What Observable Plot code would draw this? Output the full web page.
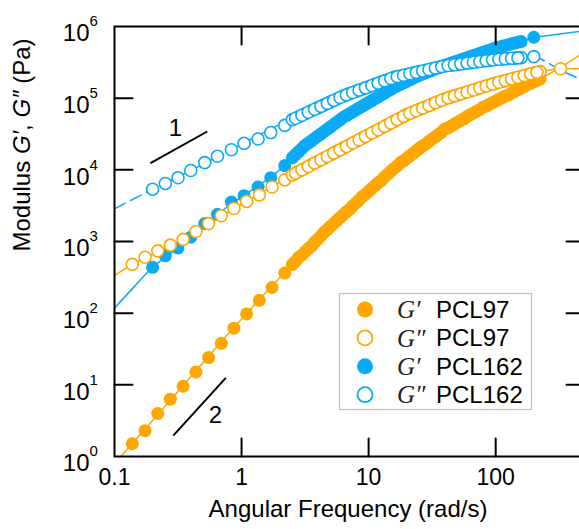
<!DOCTYPE html>
<html><head><meta charset="utf-8">
<script src="https://cdn.jsdelivr.net/npm/d3@7"></script>
<script src="https://cdn.jsdelivr.net/npm/@observablehq/plot@0.6"></script>
<style>
html,body{margin:0;padding:0;background:#fff;overflow:hidden;}
</style></head><body><div id="chart"></div>
<script>
// ---------- data ----------
// PCL97, sweep A
const freq97 = [0.138, 0.174, 0.219, 0.275, 0.347, 0.437, 0.550, 0.692, 0.871, 1.096, 1.380, 1.738, 2.188,
  2.512, 2.818, 3.162, 3.548, 3.981, 4.467, 5.012, 5.623, 6.310, 7.079, 7.943, 8.913, 10.0, 11.22, 12.59, 14.13,
  15.85, 17.78, 19.95, 22.39, 25.12, 28.18, 31.62, 35.48, 39.81, 44.67, 50.12, 56.23, 63.10, 70.79, 79.43, 89.13,
  100.0, 112.2, 125.9, 141.3, 158.5, 177.8, 199.5, 223.9, 323.6];
const Gp97 = [1.51, 2.29, 3.98, 6.31, 9.55, 15.1, 24.0, 38.0, 61.7, 97.7, 151, 229, 363,
  479, 600, 719, 860, 1079, 1350, 1622, 1959, 2360, 2800, 3443, 4230, 5012, 6026, 7100, 8710,
  10470, 12600, 14450, 16980, 19950, 22800, 26920, 31260, 37000, 41020, 46240, 51500, 58880, 65770, 74500, 81850,
  91200, 101200, 111000, 124500, 138000, 155000, 168700, 186200, null];
const Gpp97 = [479, 603, 741, 891, 1072, 1380, 1778, 2291, 2884, 3631, 4467, 5754, 7244,
  8511, 9484, 10540, 11750, 13090, 14550, 16220, 18070, 20090, 22390, 24950, 27730, 30900, 34430, 38280, 42660,
  47530, 52840, 58880, 64120, 69660, 75860, 82600, 89740, 97720, 104200, 110900, 118300, 125900, 134300, 142900, 152400,
  162200, 171000, 180700, 190500, 200900, 212300, 223900, 234400, 257000];
// PCL97, sweep B (interleaved frequencies)
const freq97b = [2.661, 2.985, 3.350, 3.758, 4.217, 4.732, 5.309, 5.957, 6.683, 7.499, 8.414, 9.441, 10.59,
  11.89, 13.34, 14.96, 16.79, 18.84, 21.13, 23.71, 26.61, 29.85, 33.50, 37.58, 42.17, 47.32, 53.09, 59.57, 66.83,
  74.99, 84.14, 94.41, 105.9, 118.9, 133.4, 149.6, 167.9, 188.4, 211.3];
const Gp97b = [530, 649, 796, 975, 1195, 1466, 1782, 2150, 2594, 3133, 3781, 4560, 5495,
  6607, 7943, 9550, 11350, 13340, 15670, 18410, 21500, 24970, 29000, 33690, 38600, 43550, 49150, 55460, 62230,
  69420, 77450, 86420, 96050, 106500, 118200, 131100, 145100, 160300, 177300];
const Gpp97b = [8985, 10000, 11130, 12400, 13800, 15370, 17120, 19050, 21210, 23640, 26300, 29280, 32620,
  36310, 40420, 45030, 50120, 55790, 61460, 66830, 72700, 79160, 86100, 93650, 100900, 107500, 114600, 122100, 130000,
  138500, 147600, 157200, 166500, 175800, 185500, 195700, 206500, 218000, 229100];

// PCL162, sweep A
const freq162 = [0.1995, 0.2512, 0.3162, 0.3981, 0.5129, 0.6457, 0.8318, 1.047, 1.349, 1.698, 2.188,
  2.512, 2.818, 3.162, 3.548, 3.981, 4.467, 5.012, 5.623, 6.310, 7.079, 7.943, 8.913, 10.0, 11.22, 12.59, 14.13,
  15.85, 17.78, 19.95, 22.39, 25.12, 28.18, 31.62, 35.48, 39.81, 44.67, 50.12, 56.23, 63.10, 70.79, 79.43, 89.13,
  100.0, 112.2, 125.9, 141.3, 158.5, 199.5];
const Gp162 = [436.5, 631, 812.8, 1148, 1778, 2399, 3548, 4365, 5754, 7762, 11480,
  14790, 17990, 21880, 25410, 29510, 34280, 39810, 46240, 53700, 60670, 68390, 77270, 87100, 98400, 110900, 125300,
  141300, 156000, 171800, 189700, 208900, 226500, 245500, 266100, 288400, 309000, 331100, 354800, 380200, 407400, 436500, 467700,
  501200, 529700, 558500, 588800, 616600, 707900];
const Gpp162 = [5370, 6457, 7762, 9772, 12590, 15490, 19050, 23440, 26920, 33110, 41690,
  50120, 55080, 60670, 66680, 73280, 80540, 88720, 97500, 107200, 115600, 124500, 134300, 144500, 156000, 167900, 181100,
  195000, 204200, 213800, 223900, 234400, 245500, 257000, 269200, 281800, 289100, 297200, 304800, 312600, 320600, 329600, 338100,
  346700, 351600, 357300, 362200, 367300, 380200];
// PCL162, sweep B
const freq162b = [2.661, 2.985, 3.350, 3.758, 4.217, 4.732, 5.309, 5.957, 6.683, 7.499, 8.414, 9.441, 10.59,
  11.89, 13.34, 14.96, 16.79, 18.84, 21.13, 23.71, 26.61, 29.85, 33.50, 37.58, 42.17, 47.32, 53.09, 59.57, 66.83,
  74.99, 84.14, 94.41, 105.9, 118.9, 133.4, 149.6];
const Gp162b = [16310, 19840, 23580, 27390, 31810, 36950, 42900, 49830, 57080, 64420, 72700, 82040, 92570,
  104500, 117900, 133000, 148500, 163700, 180500, 199100, 217600, 235800, 255600, 277000, 298500, 319900, 342800, 367300, 393600,
  421700, 451900, 484200, 515200, 543800, 573400, 602600];
const Gpp162b = [52540, 57810, 63610, 69900, 76820, 84530, 93000, 102200, 111300, 120000, 129300, 139300, 150200,
  161800, 174400, 187900, 199500, 208900, 218800, 229100, 239900, 251200, 263000, 275400, 285400, 293100, 301000, 308700, 316600,
  325100, 333800, 342400, 349100, 354400, 359700, 364800];

// fitted curves
const fitGp97F = [0.1, 0.138, 0.3162, 1, 2.512, 5.012, 10, 15.85, 25.12, 39.81, 63.1, 100, 158.5, 223.9, 316.2, 457.1];
const fitGp97 = [0.794, 1.514, 8.128, 83.18, 478.6, 1622, 5012, 10470, 19950, 36310, 58880, 91200, 138000, 186200, 263000, 398100];
const fitGpp97F = [0.1, 0.1318, 0.3162, 1, 2.512, 10, 19.95, 39.81, 100, 199.5, 323.6, 457.1];
const fitGpp97 = [335, 457.1, 977.2, 3311, 8511, 30900, 58880, 97720, 162200, 223900, 257000, 260000];
const fitGp162F = [0.1, 0.1413, 0.1995, 0.3162, 0.631, 1, 1.995, 3.162, 6.31, 10, 15.85, 25.12, 39.81, 63.1, 100, 158.5, 199.5, 251.2, 457.1];
const fitGp162 = [117.5, 229.1, 436.5, 812.8, 2344, 4169, 10000, 21880, 53700, 87100, 141300, 208900, 288400, 380200, 501200, 616600, 700000, 741300, 851100];
const fitGpp162F = [0.1, 0.195, 0.3981, 1, 2.512, 6.31, 15.85, 39.81, 100, 158.5, 199.5, 251.2, 316.2, 457.1];
const fitGpp162 = [2858, 5248, 9772, 22910, 52480, 107200, 195000, 281800, 346700, 367300, 375800, 320000, 251200, 187900];

// axes
const xTicks = [0.1, 1, 10, 100];
const xTickLabels = ["0.1", "1", "10", "100"];
const xTickMarks = [1, 10, 100];
const yTicks = [1, 10, 100, 1e3, 1e4, 1e5, 1e6];
const yExponents = ["0", "1", "2", "3", "4", "5", "6"];
const yTickMarks = [10, 100, 1e3, 1e4, 1e5];
const xLabel = "Angular Frequency (rad/s)";
const yLabel = "Modulus G\u2032, G\u2033 (Pa)";

// slope guides
const slopeSegments = [
  {x1: 0.192, y1: 12360, x2: 0.537, y2: 34270},
  {x1: 0.29, y1: 1.96, x2: 0.752, y2: 12.5}
];
const slopeLabels = [{x: 0.302, y: 37760, t: "1"}, {x: 0.624, y: 3.73, t: "2"}];

// legend
const legendSymbols = ["G\u2032", "G\u2033", "G\u2032", "G\u2033"];
const legendSamples = ["PCL97", "PCL97", "PCL162", "PCL162"];
const legendFilled = [true, false, true, false];

// ---------- styling ----------
const ORANGE = "#FFA600", BLUE = "#0AAAF5";
const legendColors = [ORANGE, ORANGE, BLUE, BLUE];
const FONT = "'Liberation Sans', Arial, Helvetica, sans-serif";
const SERIF = "'Liberation Serif', 'DejaVu Serif', 'Times New Roman', serif";

const rows = (f, g) => f.map((x, i) => ({x, y: g[i]})).filter(d => d.y != null);
const tickShape = {draw(ctx, l) { ctx.moveTo(0, 0); ctx.lineTo(0, -l); }};
const tickOpts = {length: 18, anchor: "start", shape: tickShape, stroke: "black", strokeWidth: 2};
const filledOpts = c => ({x: "x", y: "y", r: 6.5, fill: c});
const hollowOpts = c => ({x: "x", y: "y", r: 6, fill: "white", stroke: c, strokeWidth: 1.6});

const plot = Plot.plot({
  width: 579, height: 529,
  marginLeft: 114, marginRight: -5, marginTop: 26, marginBottom: 73,
  x: {type: "log", domain: [0.1, 500], axis: null},
  y: {type: "log", domain: [1, 1e6], axis: null},
  style: {fontFamily: FONT, maxWidth: "none", background: "white", color: "black"},
  marks: [
    Plot.line(rows(fitGp97F, fitGp97), {x: "x", y: "y", stroke: ORANGE, strokeWidth: 1.5, curve: "monotone-x", clip: true}),
    Plot.line(rows(fitGpp97F, fitGpp97), {x: "x", y: "y", stroke: ORANGE, strokeWidth: 1.5, curve: "monotone-x", clip: true}),
    Plot.line(rows(fitGp162F, fitGp162), {x: "x", y: "y", stroke: BLUE, strokeWidth: 1.5, curve: "monotone-x", clip: true}),
    Plot.line(rows(fitGpp162F, fitGpp162), {x: "x", y: "y", stroke: BLUE, strokeWidth: 1.5, strokeDasharray: "12,6", curve: "monotone-x", clip: true}),
    Plot.dot(rows(freq97, Gp97), filledOpts(ORANGE)),
    Plot.dot(rows(freq97b, Gp97b), filledOpts(ORANGE)),
    Plot.dot(rows(freq162, Gp162), filledOpts(BLUE)),
    Plot.dot(rows(freq162b, Gp162b), filledOpts(BLUE)),
    Plot.dot(rows(freq97, Gpp97), hollowOpts(ORANGE)),
    Plot.dot(rows(freq97b, Gpp97b), hollowOpts(ORANGE)),
    Plot.dot(rows(freq162, Gpp162), hollowOpts(BLUE)),
    Plot.dot(rows(freq162b, Gpp162b), hollowOpts(BLUE)),
    Plot.frame({stroke: "black", strokeWidth: 2}),
    Plot.vector(xTickMarks, {x: d => d, frameAnchor: "bottom", rotate: 0, ...tickOpts}),
    Plot.vector(xTickMarks, {x: d => d, frameAnchor: "top", rotate: 180, ...tickOpts}),
    Plot.vector(yTickMarks, {y: d => d, frameAnchor: "left", rotate: 90, ...tickOpts}),
    Plot.vector(yTickMarks, {y: d => d, frameAnchor: "right", rotate: -90, ...tickOpts}),
    Plot.text(xTicks, {x: d => d, frameAnchor: "bottom", dy: 28, text: (d, i) => xTickLabels[i], fontSize: 23, fill: "black"}),
    Plot.text(yTicks, {y: d => d, frameAnchor: "left", dx: -25, dy: 7, textAnchor: "end", text: () => "10", fontSize: 24, fill: "black"}),
    Plot.text(yTicks, {y: d => d, frameAnchor: "left", dx: -25, dy: -5, textAnchor: "start", text: (d, i) => yExponents[i], fontSize: 15, fill: "black"}),
    Plot.text([xLabel], {frameAnchor: "bottom", dx: -1.5, dy: 60, text: d => d, fontSize: 24, fill: "black"}),
    Plot.text([yLabel], {frameAnchor: "left", dx: -92, dy: 10, rotate: -90, text: d => d, fontSize: 24, fill: "black"}),
    Plot.link(slopeSegments, {x1: "x1", y1: "y1", x2: "x2", y2: "y2", stroke: "black", strokeWidth: 2}),
    Plot.text(slopeLabels, {x: "x", y: "y", text: "t", fontSize: 24, fill: "black"})
  ]
});

document.getElementById("chart").appendChild(plot);
const svg = d3.select(plot);

// italic G in the y label
svg.selectAll("text").filter(function() { return this.textContent === yLabel; }).each(function() {
  const t = d3.select(this);
  t.text(null);
  t.append("tspan").text("Modulus ");
  t.append("tspan").attr("font-style", "italic").text("G\u2032");
  t.append("tspan").text(", ");
  t.append("tspan").attr("font-style", "italic").text("G\u2033");
  t.append("tspan").text(" (Pa)");
});

// legend
const lg = svg.append("g").attr("font-family", FONT).attr("text-anchor", "start");
lg.append("rect").attr("x", 339.5).attr("y", 293.5).attr("width", 192).attr("height", 116)
  .attr("fill", "white").attr("stroke", "#c0c0c0").attr("stroke-width", 1.2);
legendSymbols.forEach((s, i) => {
  const cy = 309.5 + i * 28.4;
  lg.append("circle").attr("cx", 365).attr("cy", cy).attr("r", legendFilled[i] ? 8 : 7.5)
    .attr("fill", legendFilled[i] ? legendColors[i] : "white")
    .attr("stroke", legendFilled[i] ? "none" : legendColors[i]).attr("stroke-width", 1.8);
  lg.append("text").attr("x", 397).attr("y", cy).attr("dy", "0.35em").attr("text-anchor", "start")
    .attr("font-family", SERIF).attr("font-style", "italic").attr("font-size", 25).attr("fill", "#222").text(s);
  lg.append("text").attr("x", 436).attr("y", cy).attr("dy", "0.35em").attr("text-anchor", "start")
    .attr("font-size", 24).attr("fill", "black").text(legendSamples[i]);
});
</script>
</body></html>
